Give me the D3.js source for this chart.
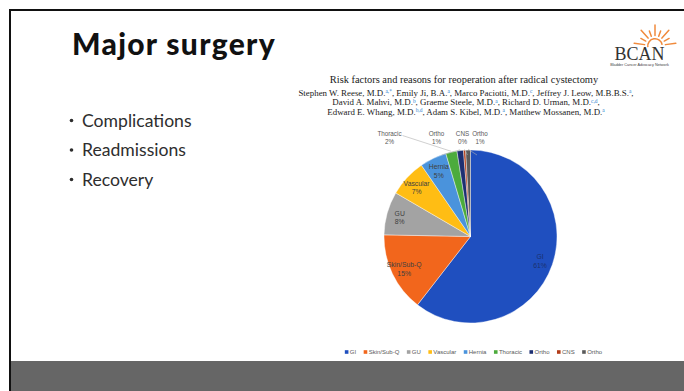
<!DOCTYPE html>
<html>
<head>
<meta charset="utf-8">
<script src="https://cdn.jsdelivr.net/npm/d3@7"></script>
<style>
  body { margin: 0; background: #fff; }
  svg { display: block; }
</style>
</head>
<body>
<div class="chart"></div>
<script>
var w = 684;
var h = 391;

// slide text
var slideTitle = "Major surgery";
var bullets = ["Complications", "Readmissions", "Recovery"];
var paperTitle = "Risk factors and reasons for reoperation after radical cystectomy";
// each author line: [text, superscript] pairs
var authorLines = [
  [["Stephen W. Reese, M.D.", "a,*"], [", Emily Ji, B.A.", "a"], [", Marco Paciotti, M.D.", "c"], [", Jeffrey J. Leow, M.B.B.S.", "a"], [",", ""]],
  [["David A. Mahvi, M.D.", "b"], [", Graeme Steele, M.D.", "a"], [", Richard D. Urman, M.D.", "c,d"], [",", ""]],
  [["Edward E. Whang, M.D.", "b,d"], [", Adam S. Kibel, M.D.", "a"], [", Matthew Mossanen, M.D.", "a"]]
];

// pie data (percent of reoperations)
var categories = ["GI", "Skin/Sub-Q", "GU", "Vascular", "Hernia", "Thoracic", "Ortho", "CNS", "Ortho"];
var shares = [60.5, 14.8, 8.1, 7.0, 5.0, 2.1, 1.2, 0.4, 0.9];
var colors = ["#1f4fbf", "#f2661c", "#a3a3a3", "#ffbd14", "#4a93dc", "#4cab3c", "#1d2f72", "#b23c18", "#5a5a5a"];

var svg = d3.select(".chart")
            .append("svg")
            .attr("width", w)
            .attr("height", h);

svg.append("rect").attr("width", w).attr("height", h).attr("fill", "#fff");

// slide frame + bottom band
svg.append("rect")
   .attr("x", 10).attr("y", 361).attr("width", w - 10).attr("height", h - 361)
   .attr("fill", "#666");
svg.append("line")
   .attr("x1", 9).attr("x2", w).attr("y1", 10).attr("y2", 10)
   .attr("stroke", "#111").attr("stroke-width", 2);
svg.append("line")
   .attr("x1", 10).attr("x2", 10).attr("y1", 9).attr("y2", h)
   .attr("stroke", "#111").attr("stroke-width", 2);

svg.append("text")
   .attr("x", 72).attr("y", 55)
   .style("font-family", "Lato").style("font-weight", 900).style("font-size", "30px")
   .style("letter-spacing", "1.3px")
   .attr("fill", "#111")
   .text(slideTitle);

var bl = svg.append("g").style("font-family", "Lato").style("font-size", "17.6px").attr("fill", "#2e2e2e");
bl.selectAll("text.b")
  .data(bullets)
  .enter()
  .append("text")
  .attr("class", "b")
  .attr("x", 82)
  .attr("y", function(d, i) { return 126.5 + i * 29.5; })
  .text(function(d) { return d; });
bl.selectAll("circle")
  .data(bullets)
  .enter()
  .append("circle")
  .attr("cx", 71.5)
  .attr("cy", function(d, i) { return 120.5 + i * 29.5; })
  .attr("r", 1.8)
  .attr("fill", "#2e2e2e");

// BCAN logo
var logo = svg.append("g");
var sunArc = d3.arc().innerRadius(6.5).outerRadius(8).startAngle(-Math.PI * 0.55).endAngle(Math.PI * 0.45);
logo.append("path").attr("d", sunArc).attr("transform", "translate(655,46)").attr("fill", "#f08a3c");
var rays = d3.range(-4, 5);
logo.selectAll("line.ray")
    .data(rays)
    .enter()
    .append("line")
    .attr("class", "ray")
    .attr("x1", function(d) { return 655 + 10.5 * Math.sin(d * 0.36); })
    .attr("y1", function(d) { return 46 - 10.5 * Math.cos(d * 0.36); })
    .attr("x2", function(d) { return 655 + (d % 2 ? 16 : 21) * Math.sin(d * 0.36); })
    .attr("y2", function(d) { return 46 - (d % 2 ? 16 : 21) * Math.cos(d * 0.36); })
    .attr("stroke", "#f08a3c").attr("stroke-width", 1.5).attr("stroke-linecap", "round");
logo.append("text")
    .attr("x", 639.5).attr("y", 60).attr("text-anchor", "middle")
    .style("font-family", "Liberation Serif").style("font-size", "18px").attr("fill", "#333")
    .text("BCAN");
logo.append("text")
    .attr("x", 639.5).attr("y", 65.5).attr("text-anchor", "middle")
    .style("font-family", "Liberation Sans").style("font-size", "3.8px").attr("fill", "#444")
    .text("Bladder Cancer Advocacy Network");

// paper header
svg.append("text")
   .attr("x", 464).attr("y", 83).attr("text-anchor", "middle")
   .style("font-family", "Liberation Serif").style("font-size", "10.4px").attr("fill", "#1a1a1a")
   .text(paperTitle);

var au = svg.append("g").style("font-family", "Liberation Serif").style("font-size", "8.9px").attr("fill", "#1a1a1a");
authorLines.forEach(function(line, i) {
    var t = au.append("text")
              .attr("x", 466)
              .attr("y", 96 + i * 9.3)
              .attr("text-anchor", "middle");
    var raised = false;
    line.forEach(function(seg) {
        t.append("tspan").attr("dy", raised ? 2.8 : 0).text(seg[0]);
        raised = false;
        if (seg[1]) {
            t.append("tspan")
             .attr("dy", -2.8)
             .style("font-size", "5.4px")
             .attr("fill", "#2a7fd0")
             .text(seg[1]);
            raised = true;
        }
    });
});

// pie
var cx = 470.5, cy = 236.5, r = 86.5;
var pie = d3.pie().sort(null).value(function(d) { return d; });
var arcs = pie(shares);
var color = d3.scaleOrdinal().domain(d3.range(categories.length)).range(colors);
var arc = d3.arc().innerRadius(0).outerRadius(r);
var labelArc = d3.arc().innerRadius(r * 0.84).outerRadius(r * 0.86);
var edgeArc = d3.arc().innerRadius(r * 1.01).outerRadius(r * 1.01);

var pg = svg.append("g").attr("transform", "translate(" + cx + "," + cy + ")");
pg.selectAll("path")
  .data(arcs)
  .enter()
  .append("path")
  .attr("d", arc)
  .attr("fill", function(d, i) { return color(i); })
  .attr("stroke", "#fff")
  .attr("stroke-width", 0.4);

function pct(v) { return Math.round(v) + "%"; }

// labels inside the big slices
var inside = arcs.filter(function(d) { return d.value >= 4; });
var il = pg.selectAll("g.in")
  .data(inside)
  .enter()
  .append("g")
  .attr("class", "in")
  .attr("transform", function(d) { return "translate(" + labelArc.centroid(d) + ")"; })
  .style("font-family", "Liberation Sans").style("font-size", "6.8px")
  .attr("text-anchor", "middle")
  .attr("fill", function(d) { return d.index == 0 ? "#1b2f6e" : "#404040"; });
il.append("text").attr("y", -1).text(function(d) { return categories[d.index]; });
il.append("text").attr("y", 7.5).text(function(d) { return pct(d.value); });

// small slices: labels above the pie with leader lines
var outDx = { 5: -81, 6: -34, 7: -8, 8: 9.5 };
var outside = arcs.filter(function(d) { return d.value < 4; });
var ol = pg.selectAll("g.out")
  .data(outside)
  .enter()
  .append("g")
  .attr("class", "out");
ol.append("line")
  .attr("x1", function(d) { return outDx[d.index] + (d.index == 5 ? 13 : d.index == 8 ? -3 : 5); })
  .attr("y1", function(d) { return d.index == 5 ? -r - 14.5 : -r + 5; })
  .attr("x2", function(d) { return edgeArc.centroid(d)[0]; })
  .attr("y2", function(d) { return edgeArc.centroid(d)[1]; })
  .attr("stroke", "#b0b0b0").attr("stroke-width", 0.6);
ol.append("text")
  .attr("x", function(d) { return outDx[d.index]; })
  .attr("y", -r - 14.5)
  .attr("text-anchor", "middle")
  .style("font-family", "Liberation Sans").style("font-size", "6.3px").attr("fill", "#595959")
  .text(function(d) { return categories[d.index]; });
ol.append("text")
  .attr("x", function(d) { return outDx[d.index]; })
  .attr("y", -r - 6)
  .attr("text-anchor", "middle")
  .style("font-family", "Liberation Sans").style("font-size", "6.3px").attr("fill", "#595959")
  .text(function(d) { return pct(d.value); });

// legend
var lg = svg.append("g").style("font-family", "Liberation Sans").style("font-size", "6px").attr("fill", "#595959");
var items = lg.selectAll("g")
  .data(categories)
  .enter()
  .append("g");
items.append("rect")
  .attr("width", 3.6).attr("height", 3.6).attr("y", -3.8)
  .attr("fill", function(d, i) { return color(i); });
items.append("text")
  .attr("x", 5)
  .attr("y", 0)
  .text(function(d) { return d; });
var xpos = 0;
items.each(function() {
    var g = d3.select(this);
    var tw = g.select("text").node().getComputedTextLength();
    g.attr("transform", "translate(" + xpos + ",0)");
    xpos += 5 + tw + 7.5;
});
xpos -= 7.5;
lg.attr("transform", "translate(" + (473.5 - xpos / 2) + ",354)");
</script>
</body>
</html>
